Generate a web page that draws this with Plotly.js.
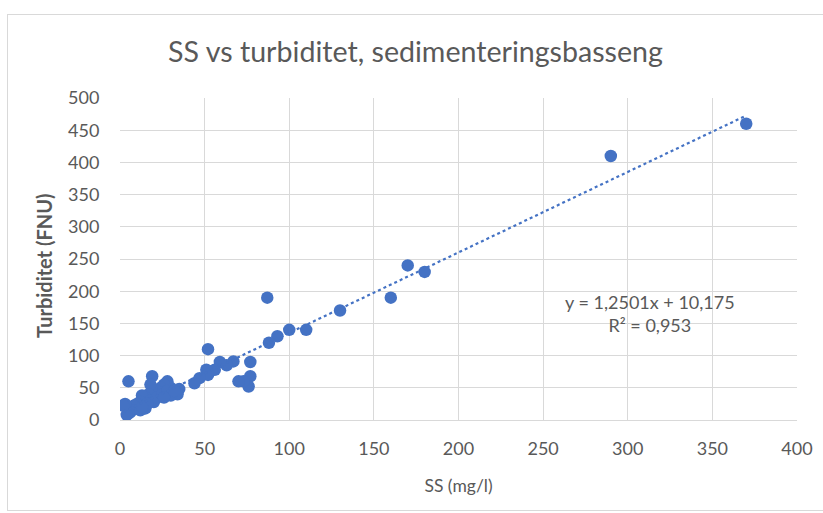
<!DOCTYPE html>
<html>
<head>
<meta charset="utf-8">
<script src="https://cdn.plot.ly/plotly-3.0.1.min.js"></script>
<style>
html,body{margin:0;padding:0;background:#fff;}
#chart{position:absolute;left:7px;top:14px;width:815px;height:495px;border:1px solid #d9d9d9;}
</style>
</head>
<body>
<div id="chart"></div>
<script>
const ssValues = [370,290,180,170,160,130,110,100,93,88,87,77,77,76,73,70,67,63,59,56,52,51,52,47,44,35,34,30,28,26,24,22,20,19,18,17,15,14,13,12,11,10,9,8,7,6,5,5,4,3,2,12,15,18,20,22,25,28,30,16,13,26,32];
const turbValues = [460,410,230,240,190,170,140,140,130,120,190,90,68,52,60,60,91,85,90,78,110,78,70,65,57,48,40,50,60,55,50,45,42,68,55,40,35,30,38,28,20,25,18,22,15,12,60,10,8,25,22,15,18,30,28,35,40,45,38,25,20,35,45];
const slope = 1.2501;
const intercept = 10.175;
const rSquared = "0,953";
const equationText = "y = 1,2501x + 10,175";
const xTicks = [0,50,100,150,200,250,300,350,400];
const yTicks = [0,50,100,150,200,250,300,350,400,450,500];

const xMin = Math.min(...ssValues), xMax = Math.max(...ssValues);
const trendX = [xMin, xMax];
const trendY = trendX.map(v => slope*v + intercept);

const blue = '#4472C4';
const grey = '#595959';
const font = 'Lato, "Open Sans", sans-serif';

const data = [
  {x: ssValues, y: turbValues, type:'scatter', mode:'markers',
   marker:{color: blue, size: 12.5}, hoverinfo:'none'},
  {x: trendX, y: trendY, type:'scatter', mode:'lines',
   line:{color: blue, width: 2.2, dash:'dot'}, hoverinfo:'none'}
];

const layout = {
  width: 815, height: 495,
  margin:{l:112, r:26, t:83, b:90},
  paper_bgcolor:'#fff', plot_bgcolor:'#fff',
  showlegend:false,
  font:{family: font, color: grey, size: 18},
  title:{text:'SS vs turbiditet, sedimenteringsbasseng', font:{family: font, size: 28.6, color: grey}, x:0.5, xanchor:'center', y:0.925, yanchor:'middle'},
  xaxis:{range:[0,400], tickvals:xTicks, ticktext:xTicks.map(String), showgrid:true, gridcolor:'#d9d9d9', gridwidth:1,
         zeroline:false, showline:true, linecolor:'#d9d9d9', linewidth:1, ticks:'', ticklen:0, ticklabelstandoff:12,
         tickfont:{size:18, color:grey}, title:{text:'SS (mg/l)', font:{size:17.5, color:grey}, standoff:22}},
  yaxis:{range:[0,500], tickvals:yTicks, ticktext:yTicks.map(String), showgrid:true, gridcolor:'#d9d9d9', gridwidth:1,
         zeroline:false, showline:false, ticks:'outside', ticklen:16, tickcolor:'rgba(0,0,0,0)', tickfont:{size:18, color:grey}},
  annotations:[
    {x:313, y:165, xref:'x', yref:'y', text: equationText + '<br>R² = ' + rSquared,
     showarrow:false, align:'center', font:{size:18, color:grey}},
    {x:0, y:0.5, xref:'paper', yref:'paper', xshift:-76, yshift:-7, textangle:-90,
     text:'<b>Turbiditet (FNU)</b>', showarrow:false, xanchor:'center', yanchor:'middle',
     font:{size:20, color:grey}}
  ]
};

Plotly.newPlot('chart', data, layout, {displayModeBar:false, staticPlot:true});
</script>
</body>
</html>
